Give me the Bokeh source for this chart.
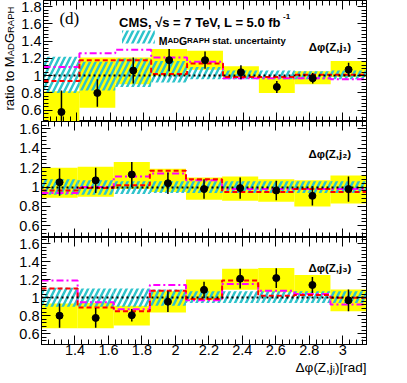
import numpy as np
from bokeh.plotting import figure
from bokeh.models import (Range1d, LinearAxis, FixedTicker, Label, Title,
                          CustomJSTickFormatter, CustomLabelingPolicy)
from bokeh.layouts import column, row
from bokeh.embed import file_html
from bokeh.resources import INLINE

# ---------------- data ----------------
bin_edges = [1.2, 1.4158, 1.6316, 1.8473, 2.0631, 2.2789, 2.4947, 2.7105, 2.9263, 3.1416]

# panel 1 : dphi(Z, j1)
j1_data = [0.58, 0.80, 1.06, 1.18, 1.18, 1.04, 0.87, 0.97, 1.07]
j1_stat = [0.25, 0.16, 0.15, 0.13, 0.10, 0.08, 0.07, 0.06, 0.08]
j1_syst_lo = [0.30, 0.63, 0.90, 1.00, 1.07, 0.985, 0.80, 0.90, 0.985]
j1_syst_hi = [0.82, 1.21, 1.21, 1.31, 1.29, 1.11, 0.985, 1.05, 1.17]
j1_mg_lo = [0.80, 0.83, 0.87, 0.92, 0.96, 0.96, 0.96, 0.96, 0.96]
j1_mg_hi = [1.22, 1.16, 1.20, 1.17, 1.10, 1.06, 1.06, 1.05, 1.06]
j1_sherpa = [0.94, 1.18, 1.18, 1.02, 1.14, 0.985, 0.985, 1.01, 1.01]
j1_powheg = [1.10, 1.26, 1.30, 1.21, 1.16, 0.97, 0.97, 0.97, 0.96]

# panel 2 : dphi(Z, j2)
j2_data = [1.05, 1.07, 1.13, 1.04, 0.98, 0.99, 0.965, 0.91, 0.98]
j2_stat = [0.14, 0.13, 0.13, 0.11, 0.10, 0.11, 0.10, 0.10, 0.13]
j2_syst_lo = [0.89, 0.90, 0.98, 0.95, 0.87, 0.86, 0.85, 0.80, 0.83]
j2_syst_hi = [1.20, 1.21, 1.26, 1.19, 1.10, 1.11, 1.08, 1.07, 1.12]
j2_mg_lo = [0.92, 0.92, 0.93, 0.94, 0.94, 0.94, 0.94, 0.94, 0.94]
j2_mg_hi = [1.08, 1.07, 1.06, 1.06, 1.06, 1.06, 1.06, 1.06, 1.06]
j2_sherpa = [0.965, 0.99, 1.02, 1.17, 1.08, 0.95, 0.95, 0.98, 0.95]
j2_powheg = [0.94, 1.00, 1.11, 1.14, 1.07, 0.98, 0.98, 0.98, 0.98]

# panel 3 : dphi(Z, j3)
j3_data = [0.80, 0.775, 0.805, 0.955, 1.086, 1.21, 1.217, 1.14, 0.97]
j3_stat = [0.135, 0.11, 0.07, 0.115, 0.09, 0.11, 0.11, 0.09, 0.12]
j3_syst_lo = [0.66, 0.66, 0.69, 0.835, 0.97, 1.086, 1.06, 1.05, 0.85]
j3_syst_hi = [0.936, 0.94, 0.91, 1.07, 1.20, 1.32, 1.33, 1.25, 1.09]
j3_mg_lo = [0.90, 0.90, 0.90, 0.91, 0.94, 0.94, 0.94, 0.94, 0.94]
j3_mg_hi = [1.11, 1.10, 1.10, 1.09, 1.07, 1.07, 1.07, 1.07, 1.07]
j3_sherpa = [1.10, 0.89, 0.85, 1.075, 0.985, 1.19, 1.02, 1.03, 1.00]
j3_powheg = [1.19, 0.95, 0.87, 1.14, 0.97, 1.15, 1.075, 1.04, 0.925]

x_major = [1.4, 1.6, 1.8, 2.0, 2.2, 2.4, 2.6, 2.8, 3.0]
y_major = [0.6, 0.8, 1.0, 1.2, 1.4, 1.6, 1.8]
x_minor = [round(1.2 + 0.04 * k, 2) for k in range(49)]
y_minor = [round(0.4 + 0.04 * k, 2) for k in range(40)]

# ---------------- layout (page pixels) ----------------
FL, FR = 41, 366          # frame left / right
RB = 10                   # right border
W = FR + RB
YT_W = 18                 # width of the y-title strip
X0, X1 = bin_edges[0], bin_edges[-1]
YELLOW = "#FFFF00"
CYAN = "#2EC4CC"
FONT = "Liberation Sans"

fmt = CustomJSTickFormatter(code="return Number(tick.toFixed(2)).toString();")
no_labels = CustomLabelingPolicy(code="return new Set()")


def px_to_x(px):
    return X0 + (px - FL) * (X1 - X0) / (FR - FL)


def style_axis(ax, ticks, minor, labels, standoff=2):
    ax.ticker = FixedTicker(ticks=ticks, minor_ticks=minor)
    ax.axis_line_color = "black"
    ax.axis_line_width = 1
    ax.major_tick_in = 9
    ax.major_tick_out = 0
    ax.minor_tick_in = 5
    ax.minor_tick_out = 0
    ax.major_tick_line_color = "black"
    ax.minor_tick_line_color = "black"
    if labels:
        ax.formatter = fmt
        ax.major_label_text_font = FONT
        ax.major_label_text_font_size = "14.5px"
        ax.major_label_text_color = "black"
        ax.major_label_standoff = standoff
    else:
        ax.major_label_policy = no_labels
        ax.major_label_text_font_size = "0px"
        ax.major_label_standoff = 0


def make_panel(width, left_border, top_px, bot_px, y0, y1, bottom_border, data, stat,
               slo, shi, mlo, mhi, sherpa, powheg, xlabels):
    h = (bot_px - top_px) + bottom_border
    p = figure(width=width, height=h, x_range=Range1d(X0, X1), y_range=Range1d(y0, y1),
               output_backend="svg", toolbar_location=None, title=None,
               min_border_left=left_border, min_border_right=RB, min_border_top=0,
               min_border_bottom=bottom_border, outline_line_color="black",
               background_fill_color="white", border_fill_color="white")
    p.grid.visible = False
    style_axis(p.xaxis[0], x_major, x_minor, xlabels, standoff=0)
    style_axis(p.yaxis[0], y_major, y_minor, True)
    top = LinearAxis()
    style_axis(top, x_major, x_minor, False)
    p.add_layout(top, "above")
    right = LinearAxis()
    style_axis(right, y_major, y_minor, False)
    p.add_layout(right, "right")

    lefts = bin_edges[:-1]
    rights = bin_edges[1:]
    centers = [(a + b) / 2 for a, b in zip(lefts, rights)]
    p.quad(left=lefts, right=rights, bottom=slo, top=shi, fill_color=YELLOW, line_color=None)
    p.quad(left=lefts, right=rights, bottom=mlo, top=mhi, fill_alpha=0, line_color=None,
           hatch_pattern="/", hatch_color=CYAN, hatch_weight=2.5, hatch_scale=11)
    p.step(x=bin_edges, y=powheg + [powheg[-1]], mode="after", line_color="#FF00FF",
           line_width=2, line_dash="7 3 2 3")
    p.step(x=bin_edges, y=sherpa + [sherpa[-1]], mode="after", line_color="#FF0000",
           line_width=2, line_dash="5 3")
    p.hspan(y=[1.0], line_color="black", line_width=2, line_dash="2 3")
    p.segment(x0=centers, y0=[d - e for d, e in zip(data, stat)], x1=centers,
              y1=[d + e for d, e in zip(data, stat)], line_color="black", line_width=1.5)
    p.scatter(x=centers, y=data, size=7, fill_color="black", line_color="black")

    def py_to_y(py):
        return y1 - (py - top_px) * (y1 - y0) / (bot_px - top_px)

    def text(t, px, py, size, bold=False, font=FONT, align="left", baseline="middle"):
        p.add_layout(Label(x=px_to_x(px), y=py_to_y(py), text=t, text_font=font,
                           text_font_size=f"{size}px",
                           text_font_style="bold" if bold else "normal",
                           text_align=align, text_baseline=baseline, text_color="black"))

    return p, text, py_to_y


# Liberation Sans advance widths (per em) for small-caps composition
W_REG = {" ": .278, "r": .333, "a": .556, "t": .278, "i": .222, "o": .556, "M": .833,
         "A": .667, "D": .722, "G": .778, "R": .722, "P": .667, "H": .722}
W_BOLD = {" ": .278, "M": .833, "A": .722, "D": .722, "G": .778, "R": .722, "P": .667, "H": .722}


def width(s, size, table):
    return sum(table.get(c, .556) for c in s) * size


p1, t1, y1f = make_panel(W - YT_W, FL - YT_W, 0, 121, 0.47, 1.87, 0, j1_data, j1_stat,
                         j1_syst_lo, j1_syst_hi, j1_mg_lo, j1_mg_hi, j1_sherpa, j1_powheg, False)
p2, t2, y2f = make_panel(W, FL, 121, 237, 0.48, 1.677, 0, j2_data, j2_stat, j2_syst_lo,
                         j2_syst_hi, j2_mg_lo, j2_mg_hi, j2_sherpa, j2_powheg, False)
p3, t3, y3f = make_panel(W, FL, 237, 344, 0.48, 1.667, 36, j3_data, j3_stat, j3_syst_lo,
                         j3_syst_hi, j3_mg_lo, j3_mg_hi, j3_sherpa, j3_powheg, True)

# panel 1 texts
t1("(d)", 57, 18, 17, font="Liberation Serif")
t1("CMS, √s = 7 TeV, L = 5.0 fb", 117, 22, 13, bold=True)
t1("-1", 282, 15.5, 8, bold=True)

# legend swatch for MadGraph stat. uncertainty
p1.quad(left=[px_to_x(120)], right=[px_to_x(153)], bottom=[y1f(43)], top=[y1f(30)],
        fill_alpha=0, line_color=None, hatch_pattern="/", hatch_color=CYAN,
        hatch_weight=2.5, hatch_scale=11)
xx = 157
for piece, size in [("M", 10.5), ("AD", 8), ("G", 10.5), ("RAPH", 8)]:
    t1(piece, xx, 40, size, bold=True, baseline="alphabetic")
    xx += width(piece, size, W_BOLD)
xx += width(" ", 10, W_BOLD)
t1("stat. uncertainty", xx, 40, 9.5, bold=True, baseline="alphabetic")

# panel labels
t1("Δφ(Z,j₁)", 308, 46, 11.5, bold=True)
t2("Δφ(Z,j₂)", 308, 153, 11.5, bold=True)
t3("Δφ(Z,j₃)", 308, 267, 11.5, bold=True)

# x axis title (right aligned under the frame)
p3.add_layout(Title(text="Δφ(Z,jᵢ)[rad]", align="right", text_font=FONT,
                    text_font_size="13.5px", text_font_style="normal",
                    text_color="black", standoff=0, offset=0), "below")

# y axis title strip (small caps, rotated); pieces centred so that they share a baseline
yt = figure(width=YT_W, height=121, x_range=Range1d(0, YT_W), y_range=Range1d(0, 121),
            output_backend="svg", toolbar_location=None, title=None,
            x_axis_location=None, y_axis_location=None, min_border=0,
            outline_line_color=None, background_fill_color="white",
            border_fill_color="white")
yt.grid.visible = False
BIG = 13
BASE_X = 9 + 0.35 * BIG
yy = 121 - 110
for piece, size in [("ratio to ", BIG), ("M", BIG), ("AD", 9.5), ("G", BIG), ("RAPH", 9.5)]:
    yt.add_layout(Label(x=BASE_X - 0.35 * size, y=yy, text=piece.strip(), text_font=FONT,
                        text_font_size=f"{size}px", text_align="left",
                        text_baseline="middle", angle=np.pi / 2, text_color="black"))
    yy += width(piece, size, W_REG)

layout = column(row(yt, p1), p2, p3)
open("out.html", "w").write(file_html(layout, INLINE))
